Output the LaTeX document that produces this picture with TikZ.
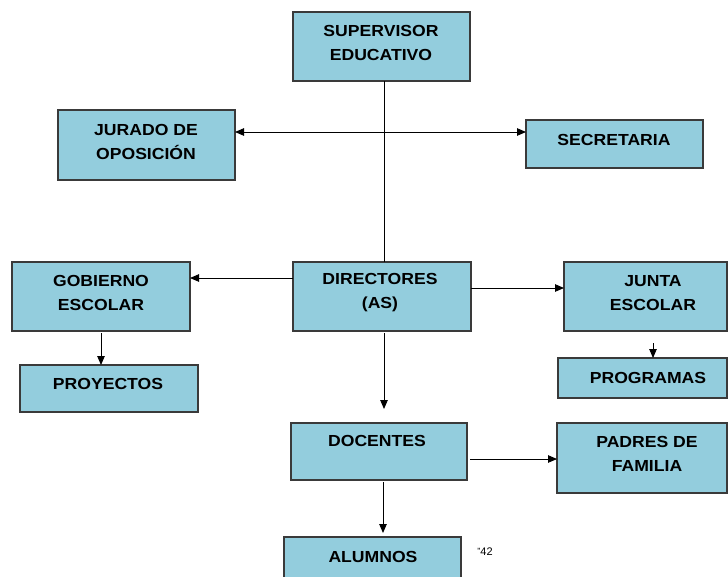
\documentclass[tikz,border=0pt]{standalone}
\usepackage{fontspec}
\setmainfont{Liberation Sans}
\newfontfamily\boxfont[FakeStretch=1.1]{Liberation Sans}
\usetikzlibrary{arrows.meta,calc}
\definecolor{boxfill}{HTML}{93CDDD}
\definecolor{boxline}{HTML}{3A3A3A}
\tikzset{
  box/.style={draw=boxline, fill=boxfill, line width=1.2pt, rectangle, inner sep=0pt, outer sep=0pt},
  txt/.style={font=\boxfont\bfseries\fontsize{16}{24}\selectfont, align=center, inner sep=0pt},
  conn/.style={draw=black, line width=0.9pt, -{Triangle[length=9pt,width=7.5pt]}},
  conn2/.style={draw=black, line width=0.9pt, {Triangle[length=9pt,width=7.5pt]}-{Triangle[length=9pt,width=7.5pt]}},
  plain/.style={draw=black, line width=0.9pt}
}
\newcommand{\bx}[5]{\node[box, minimum width={#4-#2}, minimum height={#5-#3}] (#1) at ({(#2+#4)/2},{-(#3+#5)/2}) {};}
\begin{document}
\begin{tikzpicture}[x=1pt,y=1pt]
\useasboundingbox (0,0) rectangle (728,-576);
\clip (0,0) rectangle (728,-576);
% boxes
\bx{sup}{293}{12}{470}{81}
\bx{jur}{58}{110}{235}{180}
\bx{sec}{526}{120}{703}{168}
\bx{gob}{12}{262}{190}{331}
\bx{dir}{293}{262}{471}{331}
\bx{jun}{564}{262}{727}{331}
\bx{pro}{20}{365}{198}{412}
\bx{prg}{558}{358}{727}{398}
\bx{doc}{291}{423}{467}{480}
\bx{pad}{557}{423}{727}{493}
\bx{alu}{284}{537}{461}{595}
% texts
\node[txt] (supt) at (381,-43) {SUPERVISOR\\EDUCATIVO};
\node[txt] (jurt) at (146,-142) {JURADO DE\\OPOSICIÓN};
\node[txt] (sect) at (614,-140) {SECRETARIA};
\node[txt] (gobt) at (101,-293) {GOBIERNO\\ESCOLAR};
\node[txt] (dirt) at (380,-293) {DIRECTORES\\(AS)};
\node[txt] (junt) at (653,-293) {JUNTA\\ESCOLAR};
\node[txt] (prot) at (108,-384) {PROYECTOS};
\node[txt] (prgt) at (648,-378) {PROGRAMAS};
\node[txt] (doct) at (377,-441) {DOCENTES};
\node[txt] (padt) at (647,-454) {PADRES DE\\FAMILIA};
\node[txt] (alut) at (373,-557) {ALUMNOS};
\node[font=\fontsize{11}{11}\selectfont, inner sep=0pt] (num) at (485,-552) {{\fontsize{9}{9}\selectfont\raisebox{1pt}{''}}42};
% connectors
\draw[plain] (384,0 |- sup.south) -- (384,0 |- dir.north);
\draw[conn2] (jur.east |- 0,-132) -- (sec.west |- 0,-132);
\draw[conn] (dir.west |- 0,-278) -- (gob.east |- 0,-278);
\draw[conn] (dir.east |- 0,-288) -- (jun.west |- 0,-288);
\draw[conn, shorten <=2pt] (101,0 |- gob.south) -- (101,0 |- pro.north);
\draw[conn, shorten <=12pt] (653,0 |- jun.south) -- (653,0 |- prg.north);
\draw[conn, shorten <=2pt, shorten >=14pt] (384,0 |- dir.south) -- (384,0 |- doc.north);
\draw[conn, shorten <=3pt] (doc.east |- 0,-459) -- (pad.west |- 0,-459);
\draw[conn, shorten <=2pt, shorten >=4pt] (383,0 |- doc.south) -- (383,0 |- alu.north);
\end{tikzpicture}
\end{document}
